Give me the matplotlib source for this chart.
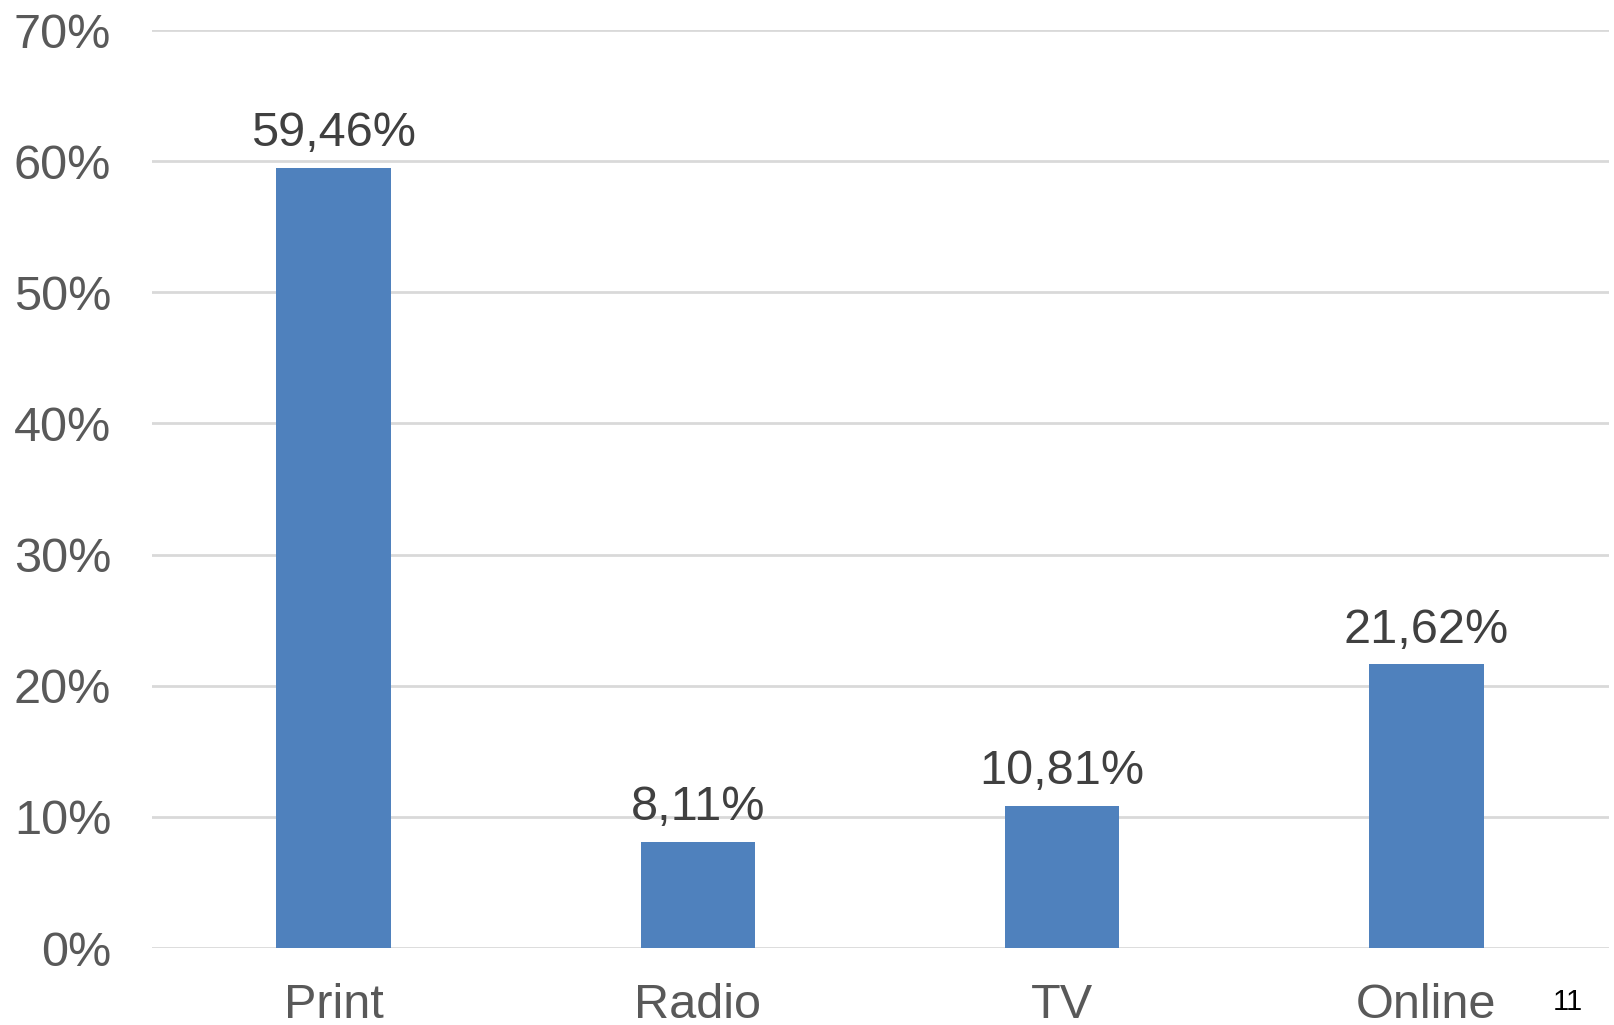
import matplotlib
matplotlib.use("Agg")
import matplotlib.pyplot as plt
from matplotlib.ticker import PercentFormatter

categories = ["Print", "Radio", "TV", "Online"]
shares = [59.46, 8.11, 10.81, 21.62]
value_labels = ["59,46%", "8,11%", "10,81%", "21,62%"]
yticks = [0, 10, 20, 30, 40, 50, 60, 70]
page_number = "11"

plt.rcParams["font.family"] = ["Liberation Sans", "DejaVu Sans"]

fig = plt.figure(figsize=(16.14, 10.25), dpi=100)
ax = fig.add_axes([151.5 / 1614, 1 - 948 / 1025, 1457 / 1614, 918 / 1025])

x = range(len(categories))
bars = ax.bar(x, shares, width=0.314, color="#4f81bd", zorder=3)

for bar, lbl in zip(bars, value_labels):
    ax.text(bar.get_x() + bar.get_width() / 2, bar.get_height() + 0.9, lbl,
            ha="center", va="bottom", fontsize=35, color="#404040")

ax.set_xlim(-0.5, len(categories) - 0.5)
ax.set_ylim(0, 70)
ax.set_yticks(yticks)
ax.yaxis.set_major_formatter(PercentFormatter(decimals=0))
ax.set_xticks(list(x))
ax.set_xticklabels(categories)
ax.tick_params(axis="y", length=0, pad=29, labelsize=35, labelcolor="#595959")
ax.tick_params(axis="x", length=0, pad=25, labelsize=35, labelcolor="#595959")
ax.grid(axis="y", color="#d9d9d9", linewidth=2, zorder=0)
for s in ax.spines.values():
    s.set_visible(False)

fig.text(1568 / 1614, 1 - 1002 / 1025, page_number, ha="center", va="center",
         fontsize=21, color="black")

fig.savefig("out.png", dpi=100, facecolor="white")
